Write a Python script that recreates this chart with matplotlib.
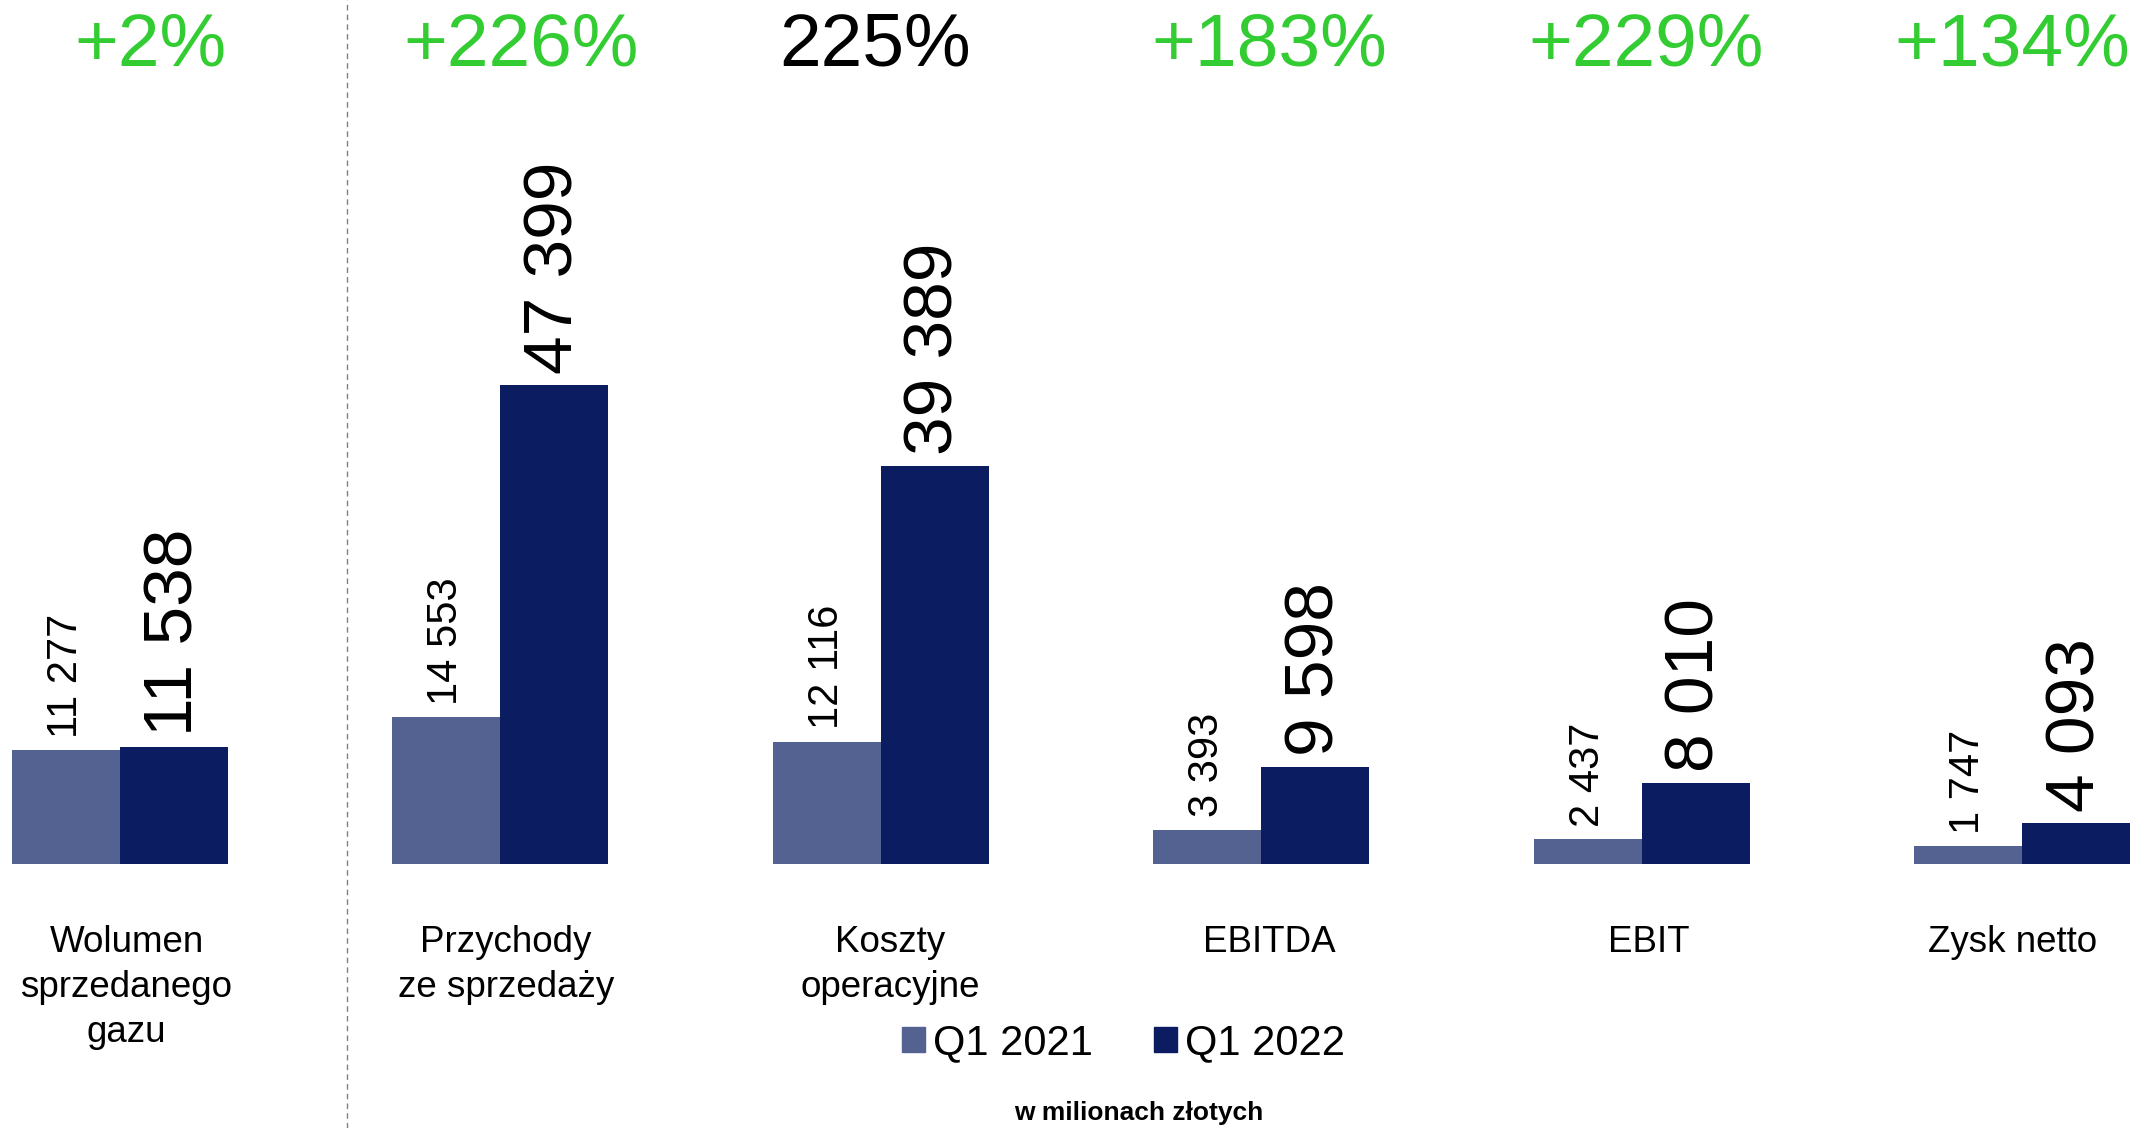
import matplotlib.pyplot as plt
from matplotlib.patches import Patch
import numpy as np

plt.rcParams['font.family'] = ['Liberation Sans', 'DejaVu Sans']

# data
categories = ["Wolumen\nsprzedanego\ngazu", "Przychody\nze sprzedaży", "Koszty\noperacyjne",
              "EBITDA", "EBIT", "Zysk netto"]
q1_2021 = [11277, 14553, 12116, 3393, 2437, 1747]
q1_2022 = [11538, 47399, 39389, 9598, 8010, 4093]
changes = ["+2%", "+226%", "225%", "+183%", "+229%", "+134%"]
change_colors = ["#33cc33", "#33cc33", "black", "#33cc33", "#33cc33", "#33cc33"]

# small horizontal nudges of the text rows (in category units)
change_shift = [0.08, 0.054, -0.014, 0.022, 0.011, -0.025]
label_shift = [0.017, 0.014, 0.025, 0.022, 0.018, -0.025]

c21 = "#546291"
c22 = "#0b1d60"

def fmt(v):
    return f"{v:,}".replace(",", " ")

fig = plt.figure(figsize=(21.44, 11.28), dpi=100)
ax = fig.add_axes([0, 0, 1, 1])
ax.axis("off")

x = np.arange(len(categories))
w = 0.284
b1 = ax.bar(x - w / 2, q1_2021, w, color=c21)
b2 = ax.bar(x + w / 2, q1_2022, w, color=c22)

ax.set_xlim(-0.3155, 5.3207)
ax.set_ylim(-26140, 85545)

for rect, v in zip(b1, q1_2021):
    ax.annotate(fmt(v), (rect.get_x() + rect.get_width() / 2, v), xytext=(0, 9),
                textcoords="offset points", rotation=90, ha="center", va="bottom", fontsize=30)
for rect, v in zip(b2, q1_2022):
    ax.annotate(fmt(v), (rect.get_x() + rect.get_width() / 2, v), xytext=(0, 8),
                textcoords="offset points", rotation=90, ha="center", va="bottom", fontsize=50)

tr = ax.get_xaxis_transform()
for xi, lab, col, dx in zip(x, changes, change_colors, change_shift):
    ax.text(xi + dx, 0.942, lab, transform=tr, ha="center", va="baseline", fontsize=54, color=col)

for xi, lab, dx in zip(x, categories, label_shift):
    ax.text(xi + dx, 0.180, lab, transform=tr, ha="center", va="top", fontsize=26.5,
            linespacing=1.38)

# separator between volume and financial figures
ax.axvline(0.597, color="#808080", linestyle=(0, (4, 3)), linewidth=1)

handles = [Patch(color=c21, label="Q1 2021"), Patch(color=c22, label="Q1 2022")]
fig.legend(handles=handles, loc="center", bbox_to_anchor=(0.524, 0.0754), ncol=2,
           frameon=False, fontsize=30, handlelength=0.55, handleheight=0.55,
           handletextpad=0.2, columnspacing=1.45)

fig.text(0.531, 0.0133, "w milionach złotych", ha="center", va="center",
         fontsize=19, fontweight="bold")

fig.savefig("out.png", dpi=100)
